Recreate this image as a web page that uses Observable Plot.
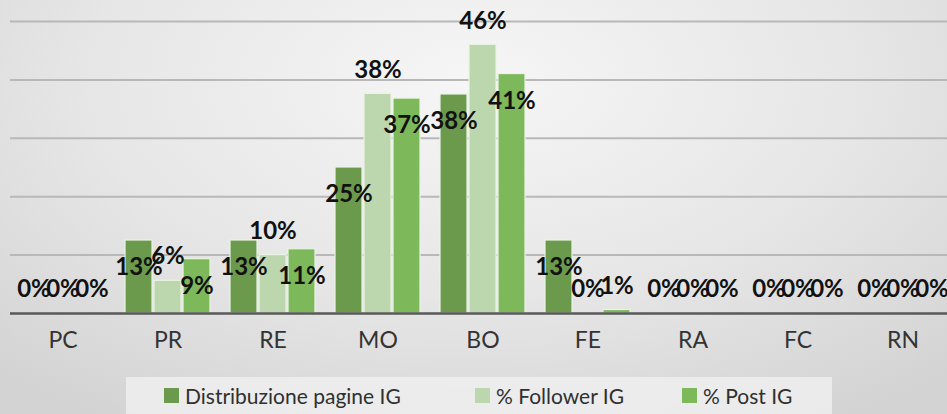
<!DOCTYPE html>
<html>
<head>
<meta charset="utf-8">
<script src="https://cdn.jsdelivr.net/npm/d3@7"></script>
<script src="https://cdn.jsdelivr.net/npm/@observablehq/plot@0.6"></script>
<style>
  html, body { margin: 0; padding: 0; }
  body {
    width: 947px; height: 414px; overflow: hidden;
    background: radial-gradient(ellipse 75% 95% at 50% 20%, #f6f6f6 0%, #e6e6e6 55%, #d3d3d3 100%);
    font-family: Lato, "Open Sans", sans-serif;
  }
  #chart svg { display: block; }
  #legend { position: relative; height: 37px; }
  #legend .box {
    position: absolute; left: 126px; top: 0; width: 706px; height: 40px;
    background: rgba(242,242,242,0.75);
  }
  #legend .item { position: absolute; top: 0; height: 37px; display: flex; align-items: center; font-size: 21px; color: #303030; }
  #legend .sw { width: 15px; height: 15px; margin-right: 6px; }
</style>
</head>
<body>
<div id="chart"></div>
<div id="legend"><div class="box"></div></div>
<script>
// ---- data ----
const categories = ["PC", "PR", "RE", "MO", "BO", "FE", "RA", "FC", "RN"];
const seriesNames = ["Distribuzione pagine IG", "% Follower IG", "% Post IG"];
const distribuzione = [0, 0.125, 0.125, 0.25, 0.375, 0.125, 0, 0, 0];
const follower      = [0, 0.056, 0.10, 0.376, 0.46, 0, 0, 0, 0];
const post          = [0, 0.093, 0.11, 0.368, 0.41, 0.006, 0, 0, 0];
const colors = ["#6b9a4c", "#bcd6ad", "#7db85a"];
const gridTicks = [0.1, 0.2, 0.3, 0.4, 0.5];

const seriesValues = [distribuzione, follower, post];
const table = [];
categories.forEach((c, i) => {
  seriesNames.forEach((s, j) => table.push({cat: c, series: s, value: seriesValues[j][i]}));
});

const fmt = d3.format(".0%");
const isAbove = d => d.series === seriesNames[1] || d.value < 0.05;

const plot = Plot.plot({
  width: 947,
  height: 377,
  marginTop: 21,
  marginBottom: 64,
  marginLeft: 0,
  marginRight: 0,
  style: {background: "transparent", fontFamily: "Lato, 'Open Sans', sans-serif", fontSize: "23px", color: "#333", overflow: "visible"},
  fx: {domain: categories, range: [9.5, 954.5], padding: 0, axis: "bottom", tickSize: 0, tickPadding: 18, label: null},
  x: {domain: seriesNames, paddingInner: 0.069, paddingOuter: 0.33, axis: null},
  y: {domain: [0, 0.5], axis: null},
  color: {domain: seriesNames, range: colors},
  marks: [
    Plot.ruleY(gridTicks, {stroke: "#b8b8b8", strokeWidth: 2}),
    Plot.barY(table, {fx: "cat", x: "series", y: "value", fill: "series", stroke: "#eaf3e4", strokeWidth: 1.2}),
    Plot.ruleY([0], {stroke: "#595959", strokeWidth: 2.5}),
    Plot.text(table.filter(isAbove), {fx: "cat", x: "series", y: "value", text: d => fmt(d.value), dy: -24, fontWeight: "bold", fontSize: 24, fill: "#111"}),
    Plot.text(table.filter(d => !isAbove(d)), {fx: "cat", x: "series", y: "value", text: d => fmt(d.value), dy: 27, fontWeight: "bold", fontSize: 24, fill: "#111"})
  ]
});
document.getElementById("chart").appendChild(plot);

// legend
const legendLefts = [164, 475, 682];
const legend = document.getElementById("legend");
seriesNames.forEach((s, i) => {
  const item = document.createElement("div");
  item.className = "item";
  item.style.left = legendLefts[i] + "px";
  const sw = document.createElement("span");
  sw.className = "sw";
  sw.style.background = colors[i];
  const t = document.createElement("span");
  t.textContent = s;
  item.appendChild(sw);
  item.appendChild(t);
  legend.appendChild(item);
});
</script>
</body>
</html>
